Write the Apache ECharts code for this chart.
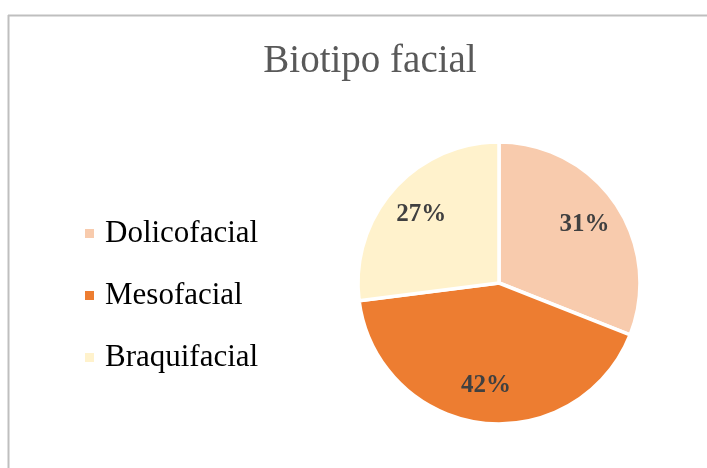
<!DOCTYPE html>
<html>
<head>
<meta charset="utf-8">
<script src="https://cdn.jsdelivr.net/npm/echarts@6/dist/echarts.min.js"></script>
<style>
  html, body { margin: 0; padding: 0; background: #fff; }
  #chart { width: 707px; height: 468px; }
</style>
</head>
<body>
<div id="chart"></div>
<script>
var categories = ["Dolicofacial", "Mesofacial", "Braquifacial"];
var values = [31, 42, 27];
var colors = ["#F8CBAD", "#ED7D31", "#FFF2CC"];

var serif = "'Liberation Serif', 'DejaVu Serif', serif";

var pieData = categories.map(function (c, i) {
  return { name: c, value: values[i], itemStyle: { color: colors[i] } };
});

var chart = echarts.init(document.getElementById("chart"));
chart.setOption({
  backgroundColor: "#fff",
  animation: false,
  title: {
    text: "Biotipo facial",
    left: 365,
    textAlign: "center",
    top: 37,
    textStyle: { fontFamily: serif, fontWeight: "normal", fontSize: 39, color: "#595959" }
  },
  legend: {
    orient: "vertical",
    left: 83,
    top: 218,
    padding: 0,
    itemWidth: 11,
    itemHeight: 11,
    itemGap: 31,
    icon: "rect",
    textStyle: { fontFamily: serif, fontSize: 31, color: "#000", padding: [0, 0, 0, 5] },
    data: categories
  },
  graphic: [
    { type: "line", shape: { x1: 8, y1: 15.5, x2: 707, y2: 15.5 }, style: { stroke: "#BFBFBF", lineWidth: 2 } },
    { type: "line", shape: { x1: 8.5, y1: 15, x2: 8.5, y2: 468 }, style: { stroke: "#BFBFBF", lineWidth: 2 } }
  ],
  series: [{
    type: "pie",
    center: [499, 283],
    radius: 141,
    startAngle: 90,
    clockwise: true,
    itemStyle: { borderColor: "#fff", borderWidth: 3.5 },
    label: { show: false },
    labelLine: { show: false },
    data: pieData
  }, {
    // transparent ring only used to place the percentage labels further out
    type: "pie",
    center: [499, 283],
    radius: [60, 141],
    startAngle: 90,
    clockwise: true,
    silent: true,
    itemStyle: { color: "transparent", borderWidth: 0 },
    label: {
      position: "inside",
      formatter: "{d}%",
      fontFamily: serif,
      fontWeight: "bold",
      fontSize: 25,
      color: "#404040"
    },
    labelLine: { show: false },
    data: categories.map(function (c, i) { return { name: c, value: values[i] }; })
  }]
});
</script>
</body>
</html>
